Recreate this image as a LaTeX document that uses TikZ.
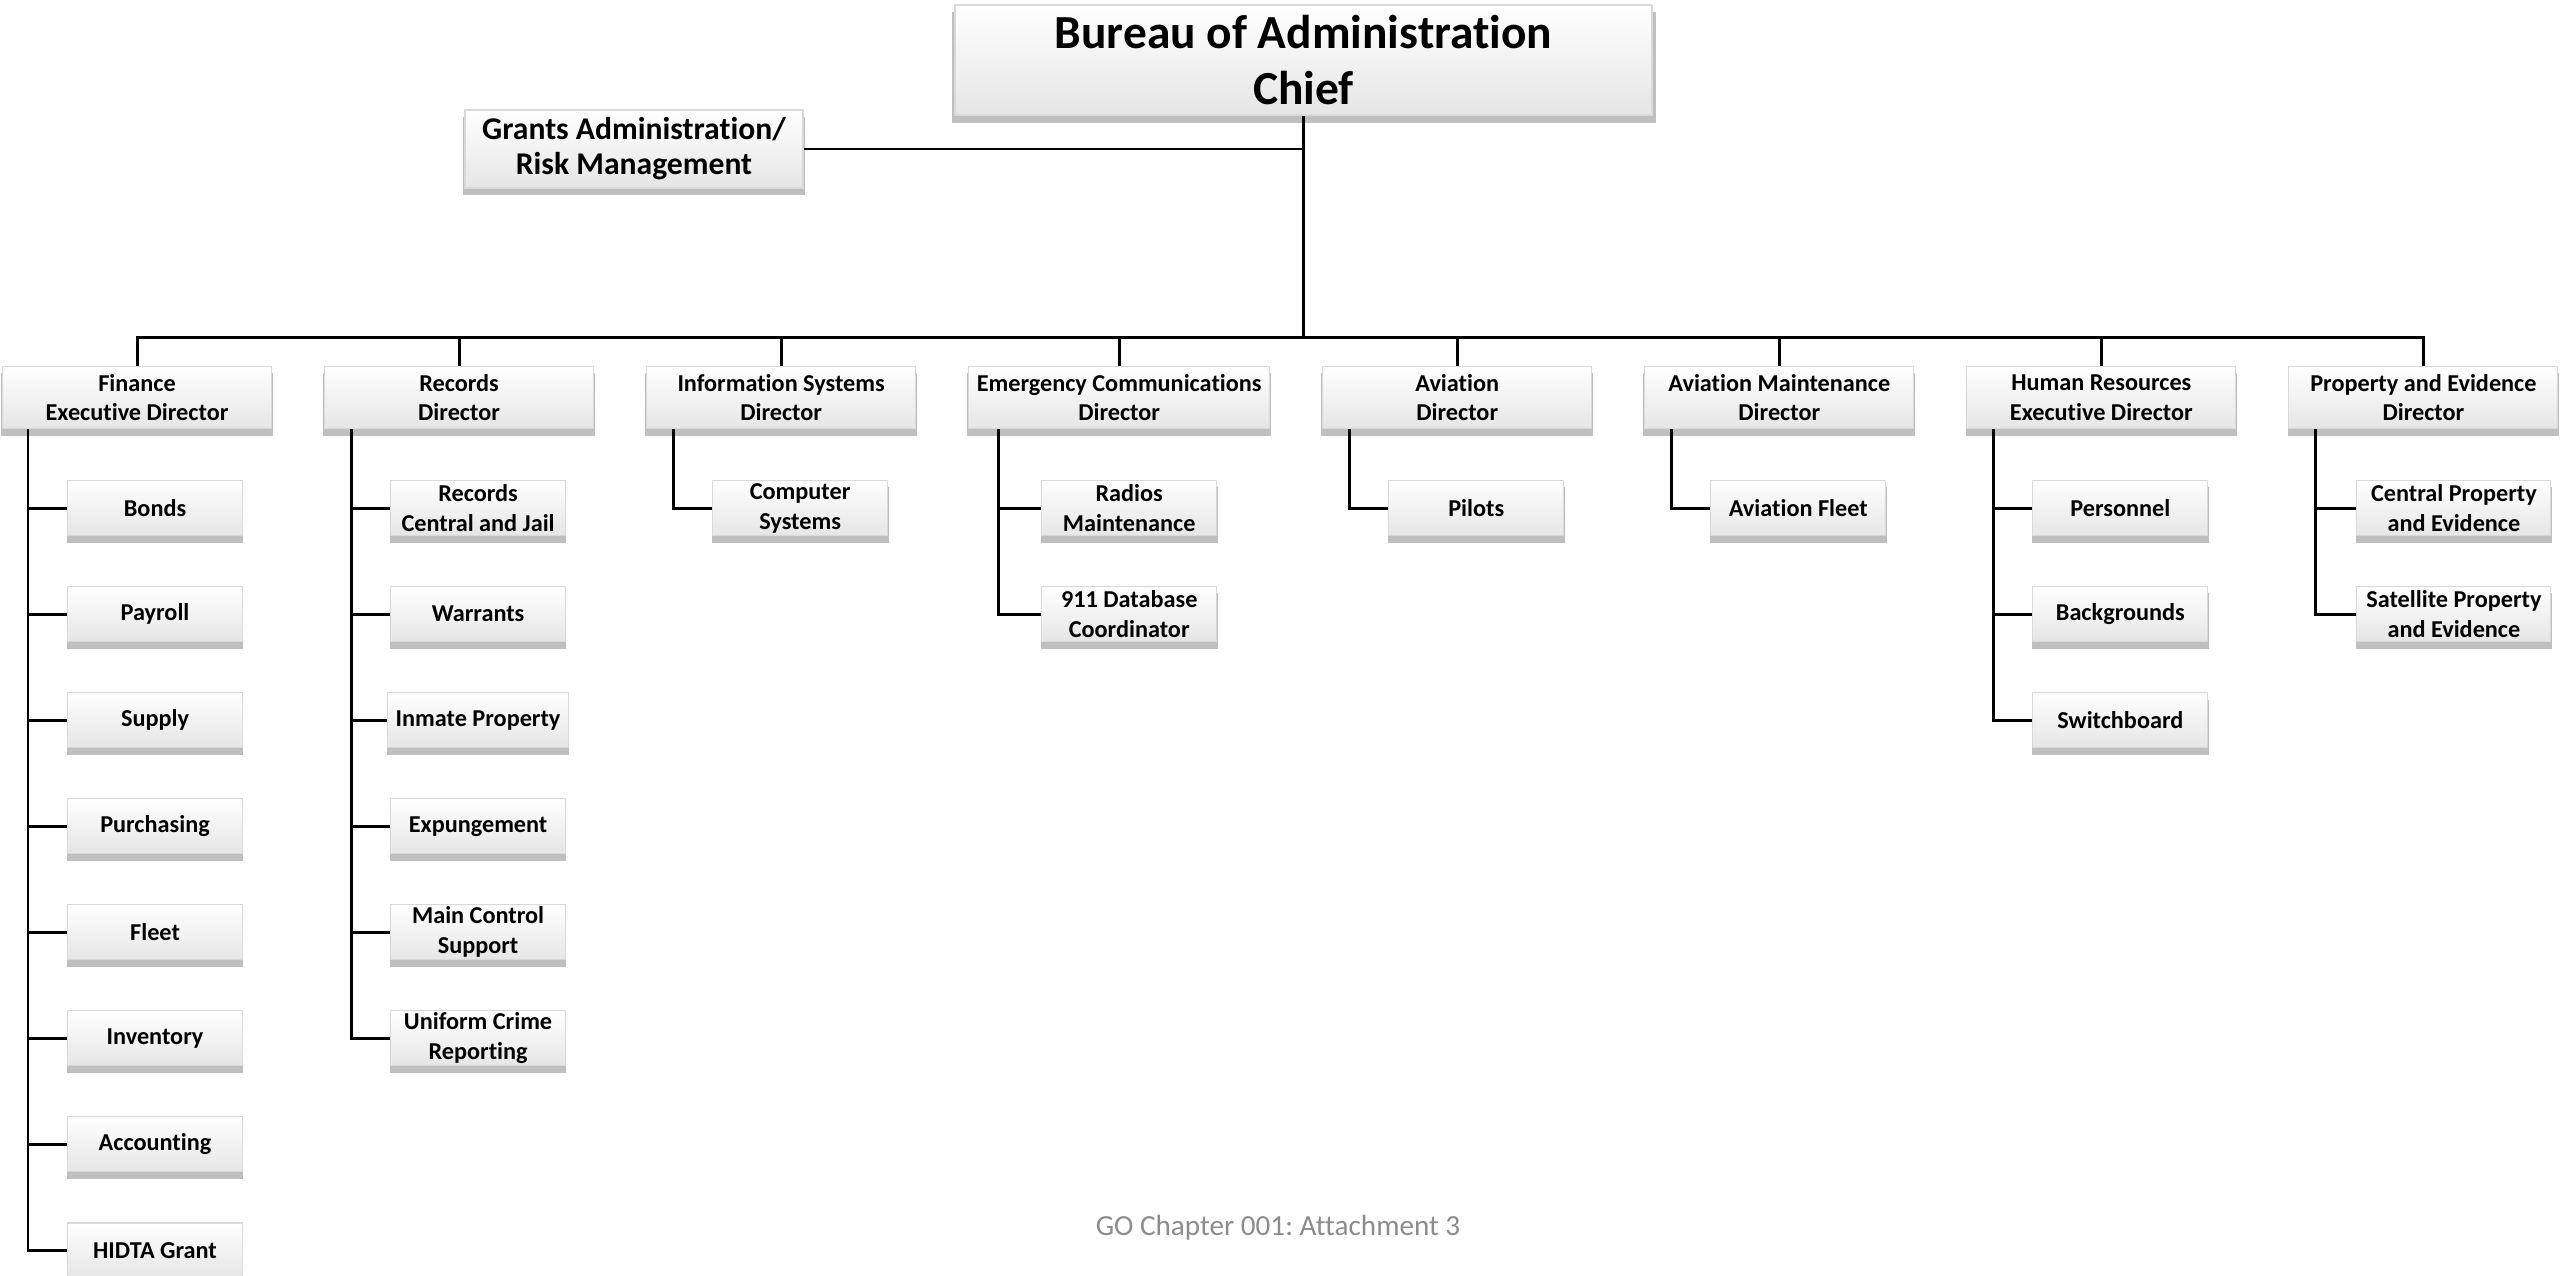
\documentclass[tikz,border=0pt]{standalone}
\usepackage{fontspec}
\setmainfont{Carlito}[Ligatures=NoCommon]
\usetikzlibrary{positioning,shadows}

\begin{document}
\frenchspacing
\begin{tikzpicture}[line width=0.85pt,
  card/.style={draw=gray!30, line width=0.3pt, top color=white, bottom color=gray!20,
   drop shadow={shadow xshift=0pt, shadow yshift=-2pt, shadow scale=1.01, opacity=0.5},
   align=center, font=\bfseries\fontsize{6.9}{8.5}\selectfont, inner xsep=2.3pt, inner ysep=0.5pt},
  head/.style={card, minimum width=6.97cm, minimum height=1.1cm, font=\bfseries\fontsize{13.5}{16.2}\selectfont},
  side/.style={card, minimum width=3.38cm, minimum height=0.78cm, font=\bfseries\fontsize{9}{10}\selectfont},
  dir/.style={card, minimum width=2.69cm, minimum height=0.62cm},
  unit/.style={card, minimum width=1.75cm, minimum height=0.55cm},
  node distance=5mm and 5.2mm]
 \useasboundingbox (0,0) rectangle (25.6,-12.76);
 \node[head] (chief) at (13.035,-0.6) {Bureau of Administration\\Chief};
 \node[side] (grants) at (6.34,-1.49) {Grants Administration/\\Risk Management};
 % directors
 \node[dir, anchor=north west] (fin) at (0.02,-3.66) {Finance\\Executive Director};
 \node[dir, right=of fin] (rec) {Records\\Director};
 \node[dir, right=of rec] (info) {Information Systems\\Director};
 \node[dir, right=of info] (emc) {Emergency Communications\\Director};
 \node[dir, right=of emc] (avi) {Aviation\\Director};
 \node[dir, right=of avi] (avm) {Aviation Maintenance\\Director};
 \node[dir, right=of avm] (hr) {Human Resources\\Executive Director};
 \node[dir, right=of hr] (prop) {Property and Evidence\\Director};
 % finance units
 \node[unit, below right=5.1mm and 6.5mm of fin.south west] (bonds) {Bonds};
 \node[unit, below=of bonds] (payroll) {Payroll};
 \node[unit, below=of payroll] (supply) {Supply};
 \node[unit, below=of supply] (purch) {Purchasing};
 \node[unit, below=of purch] (fleet) {Fleet};
 \node[unit, below=of fleet] (inv) {Inventory};
 \node[unit, below=of inv] (acct) {Accounting};
 \node[unit, below=of acct] (hidta) {HIDTA Grant};
 % records units
 \node[unit, below right=5.1mm and 6.6mm of rec.south west] (jail) {Records\\Central and Jail};
 \node[unit, below=of jail] (warr) {Warrants};
 \node[unit, below=of warr] (inmate) {Inmate Property};
 \node[unit, below=of inmate] (expu) {Expungement};
 \node[unit, below=of expu] (mcs) {Main Control\\Support};
 \node[unit, below=of mcs] (ucr) {Uniform Crime\\Reporting};
 % other units
 \node[unit, below right=5.1mm and 6.6mm of info.south west] (comp) {Computer\\Systems};
 \node[unit, below right=5.1mm and 7.3mm of emc.south west] (radio) {Radios\\Maintenance};
 \node[unit, below=of radio] (db) {911 Database\\Coordinator};
 \node[unit, below right=5.1mm and 6.6mm of avi.south west] (pilots) {Pilots};
 \node[unit, below right=5.1mm and 6.6mm of avm.south west] (avfleet) {Aviation Fleet};
 \node[unit, below right=5.1mm and 6.6mm of hr.south west] (pers) {Personnel};
 \node[unit, below=of pers] (backg) {Backgrounds};
 \node[unit, below=of backg] (switch) {Switchboard};
 \node[unit, minimum width=1.94cm, below right=5.1mm and 6.8mm of prop.south west] (cpe) {Central Property\\and Evidence};
 \node[unit, minimum width=1.94cm, below=of cpe] (spe) {Satellite Property\\and Evidence};
 \node[text=black!45, font=\fontsize{8.3}{10}\selectfont] (foot) at (12.78,-12.28) {GO Chapter 001: Attachment 3};

 % connectors
 \coordinate (bus) at ([yshift=-2.22cm]chief.south);
 \draw (chief.south) -- (bus);
 \draw (grants.east) -- (grants.east -| chief.south);
 \draw (fin.north) |- (bus) -| (prop.north);
 \foreach \d in {rec,info,emc,avi,avm,hr}
  \draw (bus -| \d.north) -- (\d.north);
 \foreach \u in {bonds,payroll,supply,purch,fleet,inv,acct,hidta}
  \draw ([xshift=2.6mm]fin.south west) |- (\u.west);
 \foreach \u in {jail,warr,inmate,expu,mcs,ucr}
  \draw ([xshift=2.7mm]rec.south west) |- (\u.west);
 \draw ([xshift=2.7mm]info.south west) |- (comp.west);
 \foreach \u in {radio,db}
  \draw ([xshift=3mm]emc.south west) |- (\u.west);
 \draw ([xshift=2.7mm]avi.south west) |- (pilots.west);
 \draw ([xshift=2.7mm]avm.south west) |- (avfleet.west);
 \foreach \u in {pers,backg,switch}
  \draw ([xshift=2.7mm]hr.south west) |- (\u.west);
 \foreach \u in {cpe,spe}
  \draw ([xshift=2.7mm]prop.south west) |- (\u.west);
\end{tikzpicture}
\end{document}
